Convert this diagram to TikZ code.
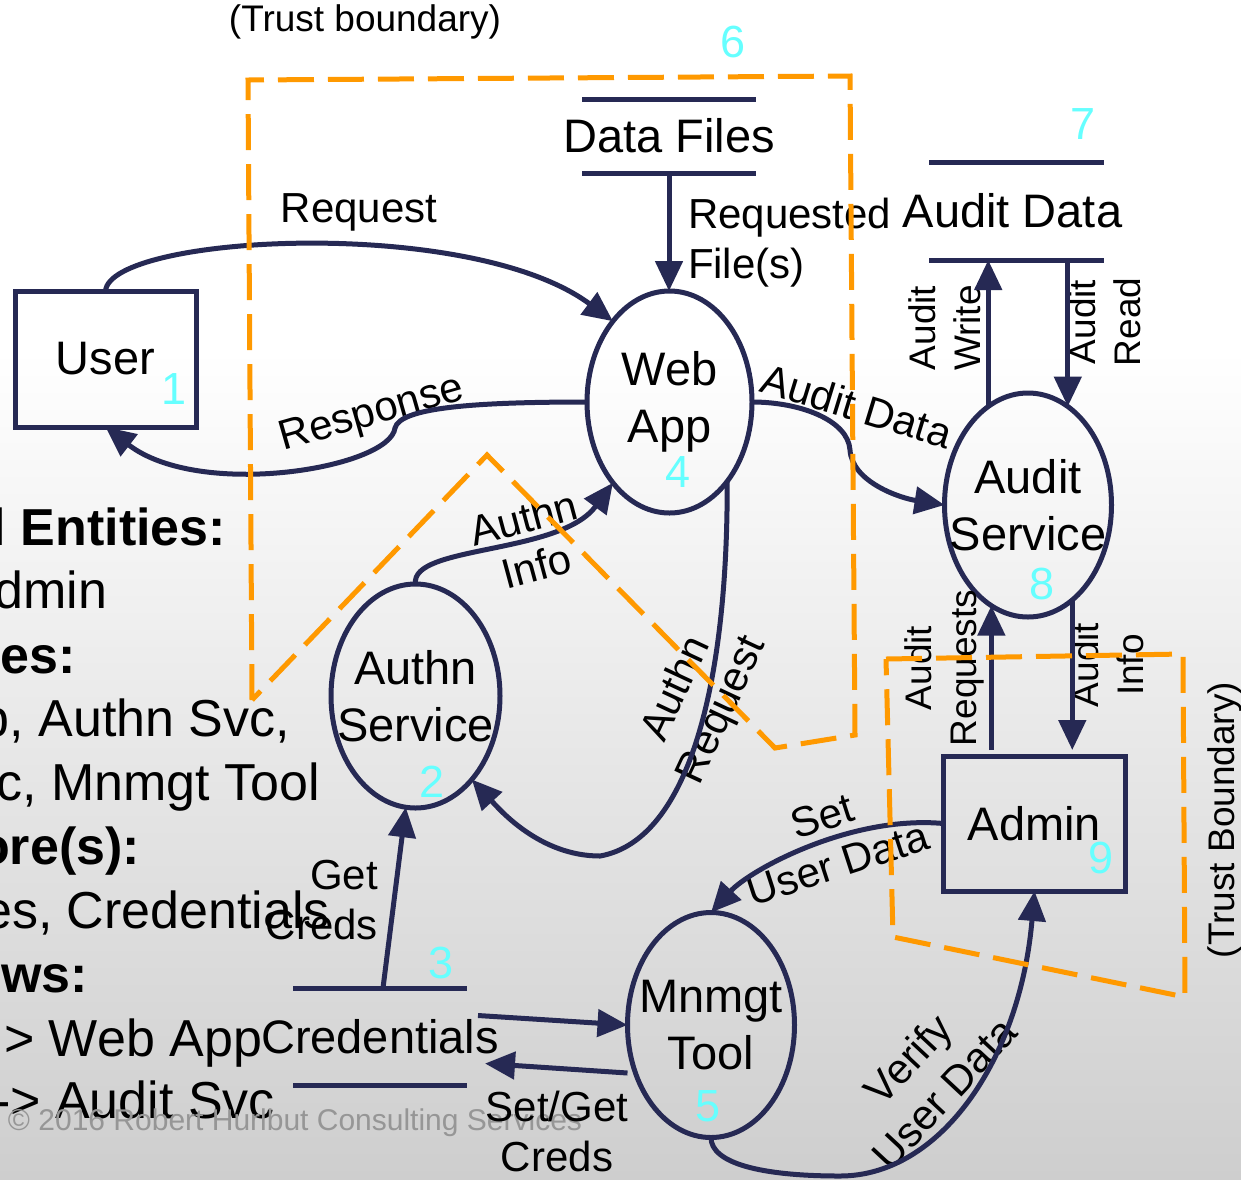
\documentclass[tikz,border=0pt]{standalone}
\usepackage{fontspec}
\setmainfont{Liberation Sans}
\usetikzlibrary{arrows.meta,calc,shapes.geometric}
\definecolor{navy}{RGB}{38,41,84}
\definecolor{bound}{RGB}{255,153,0}
\definecolor{numc}{RGB}{102,255,255}
\definecolor{bgbot}{RGB}{206,206,206}
\definecolor{copyc}{RGB}{150,150,150}
\begin{document}
\begin{tikzpicture}[x=1pt,y=-1pt,
  every node/.style={inner sep=0pt,outer sep=0pt},
  nodefont/.style={font=\fontsize{47}{57}\selectfont},
  entity/.style={nodefont,draw=navy,line width=5pt,minimum width=181pt,minimum height=136pt},
  proc/.style={ellipse,draw=navy,line width=5pt},
  ptext/.style={nodefont,align=center,inner sep=0pt},
  store/.style={minimum width=174pt},
  storeline/.style={draw=navy,line width=5pt},
  num/.style={text=numc,font=\fontsize{45}{50}\selectfont},
  flow/.style={draw=navy,line width=5pt,-{Triangle[length=30pt,width=27pt]}},
  lbl/.style={font=\fontsize{42}{50}\selectfont,align=center},
  vlbl/.style={font=\fontsize{37}{45}\selectfont,align=center,rotate=90},
  listtxt/.style={anchor=base east,font=\fontsize{52}{60}\selectfont},
  listhead/.style={anchor=base east,font=\fontsize{52}{60}\selectfont\bfseries},
  boundary/.style={draw=bound,line width=5pt,dash pattern=on 36pt off 14pt},
  tbtext/.style={font=\fontsize{37}{45}\selectfont}
]
\useasboundingbox (0,0) rectangle (1241,1179);
\clip (0,0) rectangle (1241,1179);

% slide background
\fill[white] (0,0) rectangle (1241,351);
\shade[top color=white,bottom color=bgbot] (0,350) rectangle (1241,1179);

% legend text on the slide behind the diagram
\node[listhead] (l1) at (226,545) {External Entities:};
\node[listtxt]  (l2) at (107,608) {User, Admin};
\node[listhead] (l3) at (76,673) {Processes:};
\node[listtxt]  (l4) at (290,736) {Web App, Authn Svc,};
\node[listtxt]  (l5) at (320,800) {Audit Svc, Mnmgt Tool};
\node[listhead] (l6) at (140,864) {Data Store(s):};
\node[listtxt]  (l7) at (330,928) {Data Files, Credentials};
\node[listhead] (l8) at (88,992) {Data Flows:};
\node[listtxt]  (l9) at (262,1056) {User > Web App};
\node[listtxt]  (l10) at (275,1118) {Web App -> Audit Svc};
\node[anchor=west,text=copyc,font=\fontsize{30}{36}\selectfont] (copy) at (8,1123)
  {\textcopyright{} 2016 Robert Hurlbut Consulting Services};

% external entities
\node[entity] (usr) at (105.5,359) {User};
\node[entity,minimum width=182pt,minimum height=135pt] (ad) at (1034.5,823.5) {Admin};

% processes (fixed-size ellipses, captions centred inside)
\node[proc,minimum width=165pt,minimum height=222pt,label={[ptext]center:{Web\\App}}] (wa) at (669.5,402) {};
\node[proc,minimum width=167pt,minimum height=224pt,label={[ptext]center:{Audit\\Service}}] (as) at (1028,505) {};
\node[proc,minimum width=169pt,minimum height=224pt,label={[ptext]center:{Authn\\Service}}] (auth) at (415.5,696) {};
\node[proc,minimum width=167pt,minimum height=225pt,label={[ptext]center:{Mnmgt\\Tool}}] (mt) at (711,1025) {};

% data stores (two bars with the caption between them)
\node[store,minimum height=74pt,label={[ptext]center:{Data Files}}] (df) at (669,136) {};
\draw[storeline] (df.north west) -- (df.north east) (df.south west) -- (df.south east);
\node[store,minimum width=175pt,minimum height=98pt,label={[ptext,xshift=-4pt]center:{Audit Data}}] (ads) at (1016.5,211) {};
\draw[storeline] (ads.north west) -- (ads.north east) (ads.south west) -- (ads.south east);
\node[store,minimum height=97pt,label={[ptext]center:{Credentials}}] (cred) at (380,1036.5) {};
\draw[storeline] (cred.north west) -- (cred.north east) (cred.south west) -- (cred.south east);

% element numbers
\node[num] (n1) at (174,389) {1};
\node[num] (n2) at (432,782) {2};
\node[num] (n3) at (441,963) {3};
\node[num] (n4) at (678,472) {4};
\node[num] (n5) at (708,1106) {5};
\node[num] (n6) at (733,42) {6};
\node[num] (n7) at (1083,124) {7};
\node[num] (n8) at (1042,584) {8};
\node[num] (n9) at (1101,858) {9};

% flow labels
\node[lbl] (tReq) at (359,212) {Request};
\node[lbl,anchor=west,align=left] (tFiles) at (688,243) {Requested\\File(s)};
\node[lbl,rotate=16] (tResp) at (372,415) {Response};
\node[lbl,rotate=-17] (tAud) at (857,406) {Audit Data};
\node[vlbl] (tWrite) at (945,328) {Audit\\Write};
\node[vlbl] (tRead) at (1105,322) {Audit\\Read};
\node[lbl,rotate=15] (tAInfo) at (530,542) {Authn\\Info};
\node[lbl,rotate=65] (tAReq) at (700,700) {Authn\\Request};
\node[lbl,anchor=east,align=right] (tGet) at (378,900) {Get\\Creds};
\node[lbl] (tSetGet) at (557,1131) {Set/Get\\Creds};
\node[lbl,rotate=18] (tSet) at (830,840) {Set\\User Data};
\node[lbl,rotate=47] (tVer) at (926,1076) {Verify\\User Data};
\node[vlbl] (tAReqs) at (944,668) {Audit\\Requests};
\node[vlbl] (tAI) at (1108,665) {Audit\\Info};

% data flows
\draw[flow] (usr.north) .. controls (110,235) and (470,215) .. (wa.125);
\draw[flow] (wa.west) .. controls (470,402) and (400,408) .. (395,428)
  .. controls (390,468) and (200,500) .. (usr.south);
\draw[flow] (df.south) -- (df.south |- wa.north);
\draw[flow] (wa.east) .. controls (800,402) and (848,420) .. (850,450)
  .. controls (852,482) and (900,498) .. (as.west);
\draw[flow] (as.112) -- (as.112 |- ads.south);
\draw[flow] (as.68 |- ads.south) -- (as.68);
\draw[flow,shorten <=6pt] (ad.north -| as.250) -- (as.250);
\draw[flow,shorten >=6pt] (as.295) -- (as.295 |- ad.north);
\draw[flow] (auth.north) .. controls (410,545) and (560,555) .. (wa.235);
\draw[flow] (wa.306) .. controls (728,680) and (690,840) .. (600,856)
  .. controls (540,856) and (500,810) .. (auth.304);
\draw[flow] ([xshift=3pt]cred.north) -- (auth.265);
\draw[flow] ($(cred.east)+(11,-21)$) -- (mt.west);
\draw[flow] ($(mt.west)+(0,48)$) -- ($(cred.east)+(18,27)$);
\draw[flow] (ad.west) .. controls (850,815) and (750,870) .. (mt.north);
\draw[flow] (mt.south) .. controls (711,1163) and (760,1176) .. (840,1176)
  .. controls (940,1176) and (1020,1060) .. (ad.south);

% trust boundaries
\draw[boundary] (252,700) -- (248,80) -- (850,76) -- (855,735) -- (775,748) -- (487,455) -- cycle;
\draw[boundary] (886,659) -- (1183,654) -- (1185,997) -- (893,937) -- cycle;
\node[tbtext] (tb1) at (365,22) {(Trust boundary)};
\node[tbtext,rotate=90] (tb2) at (1225,820) {(Trust Boundary)};
\end{tikzpicture}
\end{document}
